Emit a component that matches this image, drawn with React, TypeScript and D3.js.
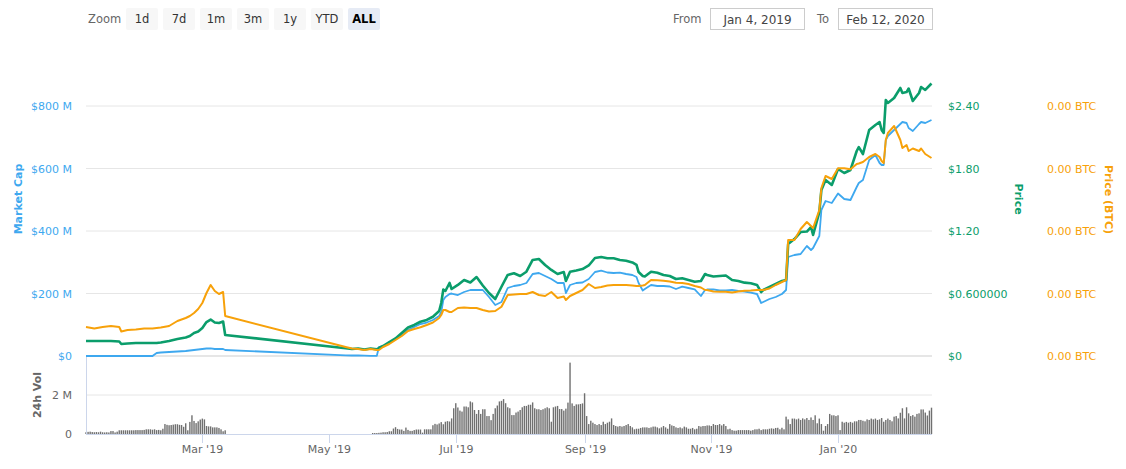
import React from 'react';
import * as d3 from 'd3';

// ---------- data ----------
const priceDates = [
  "2019-01-04","2019-01-08","2019-01-12","2019-01-16","2019-01-20","2019-01-21","2019-01-24","2019-01-28","2019-02-01","2019-02-05",
  "2019-02-07","2019-02-09","2019-02-13","2019-02-17","2019-02-21","2019-02-23","2019-02-25","2019-02-27","2019-03-01","2019-03-03",
  "2019-03-05","2019-03-07","2019-03-09","2019-03-11","2019-03-12",
  "2019-05-09","2019-05-12","2019-05-15","2019-05-18","2019-05-21","2019-05-24","2019-05-25","2019-05-27","2019-05-30","2019-06-02",
  "2019-06-05","2019-06-08","2019-06-11","2019-06-14","2019-06-17","2019-06-20","2019-06-23","2019-06-24","2019-06-25","2019-06-26",
  "2019-06-28","2019-06-29","2019-07-02","2019-07-05","2019-07-08","2019-07-11","2019-07-14","2019-07-17","2019-07-20","2019-07-23",
  "2019-07-26","2019-07-29","2019-08-01","2019-08-04","2019-08-07","2019-08-10","2019-08-13","2019-08-16","2019-08-19","2019-08-22",
  "2019-08-23","2019-08-25","2019-08-28","2019-08-31","2019-09-03","2019-09-06","2019-09-09","2019-09-12","2019-09-15","2019-09-18",
  "2019-09-21","2019-09-24","2019-09-26","2019-09-27","2019-09-29","2019-09-30","2019-10-03","2019-10-06","2019-10-09","2019-10-12",
  "2019-10-15","2019-10-18","2019-10-21","2019-10-24","2019-10-27","2019-10-29","2019-10-30","2019-11-02","2019-11-05","2019-11-08",
  "2019-11-11","2019-11-14","2019-11-17","2019-11-20","2019-11-23","2019-11-25","2019-11-26","2019-11-29","2019-12-02","2019-12-05",
  "2019-12-07","2019-12-08","2019-12-11","2019-12-14","2019-12-17","2019-12-19","2019-12-20","2019-12-23","2019-12-24","2019-12-26",
  "2019-12-29","2020-01-01","2020-01-04","2020-01-07","2020-01-10","2020-01-11","2020-01-13","2020-01-16","2020-01-19","2020-01-21",
  "2020-01-22","2020-01-23","2020-01-24","2020-01-25","2020-01-28","2020-01-31","2020-02-01","2020-02-03","2020-02-04","2020-02-06",
  "2020-02-09","2020-02-10","2020-02-12","2020-02-15"
];

const marketCapM = [
  0,0,0,0,0,0,0,0,0,0,
  9.6,11.2,12.8,14.4,16,17.6,19.2,20.8,22.4,24,
  24.6,22.4,22.4,22.4,19.2,
  2.2,1.6,1.6,1.3,0.6,0.6,28.8,32,43.2,54.4,
  67.2,83.2,92.8,102.4,107.2,115.2,128,140.8,179.2,188.8,
  198.4,200,195.2,204.8,211.2,211.2,211.2,188.8,163.2,172.8,
  217.6,224,227.2,233.6,262.4,265.6,256,246.4,233.6,233.6,
  201.6,227.2,233.6,235.2,246.4,268.8,273,267.2,265.6,266.6,
  262.4,259.2,252.8,233.6,209.6,214.4,227.2,224,224,222.4,
  214.4,221.8,217.6,213.4,192,211.2,212.8,213.4,209.6,210.2,
  211.2,208,206.4,202.6,198.4,169.6,172.8,182.4,188.8,198.4,
  211.2,316.8,323.2,326.4,352,339.2,345.6,384,467.2,496,
  489.6,520,502.4,499.2,540.8,553.6,563.2,627.2,643.2,617.6,
  611.2,611.2,691.2,704,723.2,742.4,748.8,745.6,729.6,720,
  742.4,748.8,745.6,755.2
];

const priceUsd = [
  0.144,0.144,0.144,0.144,0.139,0.115,0.120,0.125,0.125,0.125,
  0.125,0.130,0.144,0.163,0.178,0.192,0.221,0.235,0.269,0.326,
  0.350,0.322,0.317,0.331,0.202,
  0.074,0.067,0.072,0.062,0.072,0.064,0.077,0.096,0.134,0.168,
  0.221,0.274,0.298,0.329,0.346,0.377,0.432,0.509,0.638,0.624,
  0.701,0.643,0.682,0.730,0.706,0.758,0.677,0.605,0.547,0.665,
  0.778,0.794,0.768,0.809,0.922,0.931,0.874,0.826,0.787,0.806,
  0.720,0.809,0.821,0.835,0.869,0.941,0.950,0.938,0.938,0.922,
  0.915,0.898,0.874,0.806,0.768,0.763,0.809,0.800,0.778,0.768,
  0.739,0.746,0.730,0.713,0.720,0.787,0.778,0.763,0.768,0.773,
  0.730,0.720,0.704,0.698,0.682,0.614,0.634,0.662,0.691,0.720,
  0.730,1.075,1.123,1.190,1.195,1.238,1.162,1.382,1.594,1.690,
  1.642,1.795,1.757,1.786,1.968,2.006,1.939,2.170,2.218,2.246,
  2.170,2.141,2.458,2.429,2.477,2.573,2.525,2.534,2.568,2.448,
  2.525,2.582,2.554,2.616
];

const priceBtcSats = [
  2784,2640,2784,2880,2784,2352,2496,2544,2640,2640,
  2688,2736,2880,3360,3648,3840,4128,4512,5088,6048,
  6816,6240,5952,6144,3840,
  864,720,672,576,672,576,576,864,1152,1536,
  1920,2400,2592,2755,2976,3216,3648,3936,4416,4416,
  4224,4224,4608,4656,4608,4608,4416,4272,4320,4733,
  5856,5904,5952,5952,6144,5856,5760,6144,5568,5712,
  5376,5760,6048,6336,6912,6528,6624,6768,6816,6816,
  6816,6768,6720,6720,6768,6816,7296,7267,7229,7152,
  7037,7008,6912,6720,6576,6336,6336,6192,6173,6173,
  6096,6192,6269,6288,6336,6336,6336,6480,6816,7104,
  7296,11136,11136,12192,12864,12480,12288,14016,16128,17280,
  16992,18019,18019,17923,18432,18480,18624,19104,19392,19104,
  18720,18528,20736,21408,22080,20736,19968,20256,19680,19920,
  19680,19920,19392,19008
];

const volStartA = "2019-01-04";
const volumesA = [
  0.09,0.11,0.12,0.1,0.09,0.1,0.09,0.12,0.09,0.08,
  0.09,0.08,0.15,0.15,0.08,0.12,0.19,0.19,0.19,0.19,
  0.19,0.19,0.19,0.19,0.2,0.2,0.2,0.2,0.21,0.24,
  0.24,0.24,0.22,0.24,0.2,0.21,0.19,0.27,0.51,0.47,
  0.45,0.46,0.48,0.5,0.5,0.47,0.46,0.37,0.55,0.19,
  0.62,0.96,0.67,0.56,0.65,0.74,0.79,0.75,0.41,0.39,
  0.39,0.34,0.34,0.34,0.31,0.24,0.14,0.19
];

const volStartB = "2019-05-22";
const volumesB = [
  0.05,0.05,0.05,0.06,0.07,0.09,0.09,0.1,0.14,0.14,
  0.28,0.35,0.26,0.23,0.23,0.16,0.33,0.21,0.16,0.16,
  0.2,0.23,0.23,0.23,0.07,0.24,0.24,0.24,0.24,0.45,
  0.52,0.49,0.54,0.61,0.5,0.63,0.66,0.64,0.8,1.32,
  1.58,1.36,1.2,1.15,1.41,1.41,1.37,1.67,1.62,1.23,
  1.03,1.23,1.03,1.27,1.27,0.92,0.92,0.71,1.03,1.32,
  1.46,1.67,1.7,1.79,1.58,1.37,1.32,0.97,0.97,1.1,
  1.15,1.23,1.37,1.44,1.44,1.5,1.5,1.62,1.32,1.27,
  1.27,1.23,1.27,1.32,1.37,1.32,0.63,1.37,1.41,1.44,
  1.28,1.28,1.2,1.3,1.61,3.66,1.57,1.44,1.52,1.52,
  1.54,1.57,2.09,0.92,0.51,0.68,0.58,0.51,0.46,0.51,
  0.46,0.63,0.51,0.58,0.63,0.8,0.46,0.41,0.38,0.41,
  0.38,0.41,0.46,0.51,0.41,0.34,0.24,0.27,0.27,0.31,
  0.34,0.34,0.34,0.31,0.34,0.38,0.38,0.34,0.29,0.34,
  0.41,0.34,0.27,0.51,0.44,0.41,0.34,0.31,0.34,0.29,
  0.38,0.34,0.27,0.27,0.31,0.24,0.27,0.41,0.38,0.41,
  0.41,0.44,0.44,0.41,0.51,0.46,0.46,0.51,0.44,0.51,
  0.41,0.24,0.27,0.2,0.17,0.17,0.2,0.2,0.2,0.2,
  0.2,0.2,0.17,0.2,0.24,0.24,0.27,0.2,0.24,0.24,
  0.24,0.27,0.29,0.27,0.31,0.32,0.24,0.32,0.24,0.89,
  0.75,0.51,0.79,0.79,0.75,0.79,0.72,0.8,0.75,0.82,
  0.72,0.85,0.72,0.96,0.55,0.79,0.51,0.17,0.41,0.51,
  1.03,0.96,0.96,0.92,0.96,0.2,0.63,0.58,0.62,0.58,
  0.62,0.58,0.65,0.65,0.72,0.72,0.68,0.65,0.75,0.72,
  0.79,0.75,0.79,0.72,0.75,0.82,0.63,0.72,0.79,0.72,
  0.65,0.89,0.92,0.8,1.09,1.32,0.8,1.37,1.06,0.92,
  0.97,0.89,1.03,1.06,1.26,1.26,1.1,0.95,1.2,1.35
];

const mcapTicks = [0, 200, 400, 600, 800];
const mcapTickLabels = ["$0", "$200 M", "$400 M", "$600 M", "$800 M"];
const priceTicks = [0, 0.6, 1.2, 1.8, 2.4];
const priceTickLabels = ["$0", "$0.600000", "$1.20", "$1.80", "$2.40"];
const btcTicks = [0, 6000, 12000, 18000, 24000];
const volTicks = [0, 2];
const volTickLabels = ["0", "2 M"];
const xTickDates = ["2019-03-01", "2019-05-01", "2019-07-01", "2019-09-01", "2019-11-01", "2020-01-01"];
const xTickLabels = ["Mar '19", "May '19", "Jul '19", "Sep '19", "Nov '19", "Jan '20"];
const zoomButtons = ["1d", "7d", "1m", "3m", "1y", "YTD", "ALL"];
const fromDate = "Jan 4, 2019";
const toDate = "Feb 12, 2020";
const xDomain = ["2019-01-04", "2020-02-15"];

// ---------- styles ----------
const FONT = "'DejaVu Sans', 'Lucida Grande', Arial, sans-serif";
const BLUE = "#3ea8ef";
const GREEN = "#0b9d6b";
const ORANGE = "#f7a10a";
const GRID = "#e6e6e6";
const AXIS = "#ccd6eb";
const TXT = "#666666";

export default function App() {
  const W = 1126, H = 469;
  const L = 86, R = 932;
  const parse = d3.utcParse("%Y-%m-%d");
  const x = d3.scaleUtc().domain(xDomain.map((s) => parse(s) as Date)).range([L, 931.5]);
  const yM = d3.scaleLinear().domain([0, 800]).range([356, 106]);
  const yP = d3.scaleLinear().domain([0, 2.4]).range([356, 106]);
  const yB = d3.scaleLinear().domain([0, 24000]).range([356, 106]);
  const yV = d3.scaleLinear().domain([0, 4]).range([434, 356]);

  const dates = priceDates.map((s) => parse(s) as Date);
  const mk = (vals: number[], y: d3.ScaleLinear<number, number>) =>
    d3.line<number>().x((_, i) => x(dates[i])).y((v) => y(v))(vals) || "";

  const bars: { d: Date; v: number }[] = [];
  volumesA.forEach((v, i) => bars.push({ d: d3.utcDay.offset(parse(volStartA) as Date, i), v }));
  volumesB.forEach((v, i) => bars.push({ d: d3.utcDay.offset(parse(volStartB) as Date, i), v }));

  return (
    <svg width={W} height={H} style={{ position: "absolute", left: 0, top: 0, fontFamily: FONT }}>
      <rect x={0} y={0} width={W} height={H} fill="#ffffff" />

      {/* toolbar */}
      <text x={88} y={23} fontSize={11.5} fill={TXT}>Zoom</text>
      {zoomButtons.map((b, i) => {
        const bx = 126 + i * 37;
        const active = b === "ALL";
        return (
          <g key={b}>
            <rect x={bx} y={8} width={32} height={22} rx={2} fill={active ? "#e6ebf5" : "#f7f7f7"} />
            <text x={bx + 16} y={23} textAnchor="middle" fontSize={11.5} fill={active ? "#000" : "#333"} fontWeight={active ? "bold" : "normal"}>{b}</text>
          </g>
        );
      })}
      <text x={673} y={23} fontSize={11.5} fill={TXT}>From</text>
      <rect x={710.5} y={8.5} width={94} height={21} fill="#fff" stroke="#cccccc" />
      <text x={757.5} y={23.5} textAnchor="middle" fontSize={12} fill="#444">{fromDate}</text>
      <text x={817} y={23} fontSize={11.5} fill={TXT}>To</text>
      <rect x={838.5} y={8.5} width={94} height={21} fill="#fff" stroke="#cccccc" />
      <text x={885.5} y={23.5} textAnchor="middle" fontSize={12} fill="#444">{toDate}</text>

      {/* main grid */}
      {mcapTicks.map((t) => (
        <line key={"g" + t} x1={L} x2={R} y1={yM(t)} y2={yM(t)} stroke={GRID} strokeWidth={t === 0 ? 2 : 1} />
      ))}
      {/* volume grid */}
      <line x1={L} x2={R} y1={yV(2)} y2={yV(2)} stroke={GRID} strokeWidth={1} />

      {/* left axis labels */}
      {mcapTicks.map((t, i) => (
        <text key={"ml" + t} x={72} y={yM(t) + 4} textAnchor="end" fontSize={11} fill={BLUE}>{mcapTickLabels[i]}</text>
      ))}
      <text transform={`translate(22,${199}) rotate(-90)`} textAnchor="middle" fontSize={11} fontWeight="bold" fill={BLUE}>Market Cap</text>

      {/* right price axis */}
      {priceTicks.map((t, i) => (
        <text key={"pl" + t} x={948} y={yP(t) + 4} fontSize={11} fill={GREEN}>{priceTickLabels[i]}</text>
      ))}
      <text transform={`translate(1015,${199}) rotate(90)`} textAnchor="middle" fontSize={11} fontWeight="bold" fill={GREEN}>Price</text>

      {/* right BTC axis */}
      {btcTicks.map((t) => (
        <text key={"bl" + t} x={1047} y={yB(t) + 4} fontSize={11} fill={ORANGE}>{(t / 1e8).toFixed(2) + " BTC"}</text>
      ))}
      <text transform={`translate(1105,${199.5}) rotate(90)`} textAnchor="middle" fontSize={11} fontWeight="bold" fill={ORANGE}>Price (BTC)</text>

      {/* volume axis */}
      {volTicks.map((t, i) => (
        <text key={"vl" + t} x={72} y={yV(t) + 4} textAnchor="end" fontSize={11} fill={TXT}>{volTickLabels[i]}</text>
      ))}
      <text transform={`translate(41,${395}) rotate(-90)`} textAnchor="middle" fontSize={11} fontWeight="bold" fill={TXT}>24h Vol</text>

      {/* volume bars */}
      {bars.map((b, i) => {
        const y0 = yV(0), y1 = yV(b.v);
        return <rect key={"b" + i} x={x(b.d) - 0.7} y={y1} width={1.4} height={y0 - y1} fill="#707070" />;
      })}

      {/* axes lines */}
      <line x1={L + 0.5} x2={L + 0.5} y1={356} y2={434} stroke={AXIS} />
      <line x1={L} x2={R} y1={434.5} y2={434.5} stroke={AXIS} />
      {xTickDates.map((s, i) => {
        const tx = Math.round(x(parse(s) as Date)) + 0.5;
        return (
          <g key={"xt" + s}>
            <line x1={tx} x2={tx} y1={434} y2={443} stroke={AXIS} />
            <text x={tx} y={453} textAnchor="middle" fontSize={11} fill={TXT}>{xTickLabels[i]}</text>
          </g>
        );
      })}

      {/* series lines */}
      <path d={mk(marketCapM, yM)} fill="none" stroke={BLUE} strokeWidth={1.8} strokeLinejoin="round" />
      <path d={mk(priceUsd, yP)} fill="none" stroke={GREEN} strokeWidth={2.6} strokeLinejoin="round" />
      <path d={mk(priceBtcSats, yB)} fill="none" stroke={ORANGE} strokeWidth={2} strokeLinejoin="round" />
    </svg>
  );
}
